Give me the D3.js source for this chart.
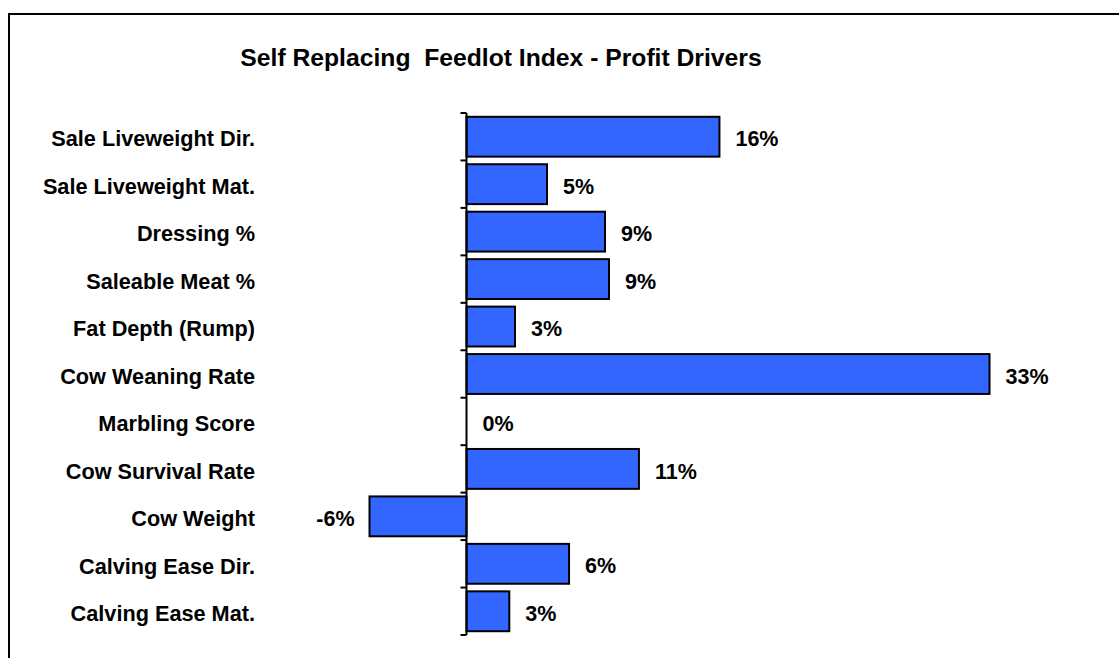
<!DOCTYPE html>
<meta charset="utf-8">
<style>
body { margin: 0; background: #fff; }
text { font-family: Arial, "Liberation Sans", sans-serif; font-weight: bold; fill: #000; }
.bar { fill: #3366ff; stroke: #000; stroke-width: 2px; }
.axis line, .axis path { stroke: #000; stroke-width: 2px; }
</style>
<body>
<script src="https://d3js.org/d3.v7.min.js"></script>
<script>
// chart data
var traits = ["Sale Liveweight Dir.", "Sale Liveweight Mat.", "Dressing %", "Saleable Meat %",
  "Fat Depth (Rump)", "Cow Weaning Rate", "Marbling Score", "Cow Survival Rate",
  "Cow Weight", "Calving Ease Dir.", "Calving Ease Mat."];
var drivers = [15.96, 5.08, 8.74, 8.99, 3.06, 33.0, 0.0, 10.88, -6.12, 6.47, 2.7];
var title = "Self Replacing  Feedlot Index - Profit Drivers";

var W = 1119, H = 658;

var svg = d3.select("body").append("svg")
    .attr("width", W)
    .attr("height", H);

// outer frame (only top and left edge visible)
svg.append("rect")
    .attr("x", 9).attr("y", 14)
    .attr("width", W + 20).attr("height", H + 20)
    .attr("fill", "none")
    .attr("stroke", "#000")
    .attr("stroke-width", 2);

// title
svg.append("text")
    .attr("x", 501)
    .attr("y", 66)
    .attr("text-anchor", "middle")
    .style("font-size", "24.7px")
    .style("white-space", "pre")
    .text(title);

// scales
var x = d3.scaleLinear().domain([0, 33]).range([466.5, 989.5]);
var y = d3.scaleBand().domain(traits).range([113, 635])
    .paddingInner(0.16).paddingOuter(0.08);
var step = y.step();

// bars
svg.selectAll(".bar")
    .data(drivers)
  .enter().append("rect")
    .attr("class", "bar")
    .attr("x", function(d) { return x(Math.min(0, d)); })
    .attr("y", function(d, i) { return y(traits[i]); })
    .attr("width", function(d) { return Math.abs(x(d) - x(0)); })
    .attr("height", y.bandwidth())
    .style("display", function(d) { return d === 0 ? "none" : null; });

// value labels
svg.selectAll(".val")
    .data(drivers)
  .enter().append("text")
    .attr("class", "val")
    .attr("x", function(d) { return d < 0 ? x(d) - 15 : x(d) + 16; })
    .attr("y", function(d, i) { return y(traits[i]) + y.bandwidth() / 2; })
    .attr("dy", "0.45em")
    .attr("text-anchor", function(d) { return d < 0 ? "end" : "start"; })
    .style("font-size", "21.5px")
    .text(function(d) { return Math.round(d) + "%"; });

// category axis with ticks between categories
var ax = svg.append("g").attr("class", "axis");
ax.append("line")
    .attr("x1", x(0)).attr("x2", x(0))
    .attr("y1", 113).attr("y2", 635);
ax.selectAll(".tick")
    .data(d3.range(traits.length + 1))
  .enter().append("line")
    .attr("x1", x(0) - 6).attr("x2", x(0))
    .attr("y1", function(i) { return 113 + i * step; })
    .attr("y2", function(i) { return 113 + i * step; });

// category labels
svg.selectAll(".cat")
    .data(traits)
  .enter().append("text")
    .attr("class", "cat")
    .attr("x", 255)
    .attr("y", function(d) { return y(d) + y.bandwidth() / 2; })
    .attr("dy", "0.45em")
    .attr("text-anchor", "end")
    .style("font-size", "21.7px")
    .text(function(d) { return d; });
</script>
</body>
